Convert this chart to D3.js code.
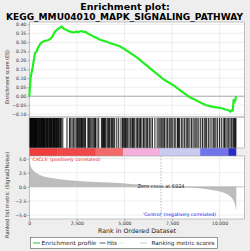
<!DOCTYPE html>
<html>
<head>
<meta charset="utf-8">
<script src="https://cdn.jsdelivr.net/npm/d3@7"></script>
<style>
  body { margin: 0; background: #eeeeee; }
  svg { display: block; font-family: 'DejaVu Sans', sans-serif; }
</style>
</head>
<body>
<div id="chart"></div>
<script>
// Enrichment profile: rank in list and running ES
var esRanks = [0, 74, 116, 160, 210, 300, 389, 458, 563, 650, 737, 879, 980, 1089, 1195, 1280, 1352, 1430, 1510, 1600, 1705, 1774, 1850, 1932, 2040, 2142, 2250, 2353, 2470, 2579, 2680, 2774, 2850, 2931, 3040, 3142, 3260, 3368, 3540, 3721, 3980, 4247, 4500, 4774, 5037, 5250, 5458, 5700, 5916, 6130, 6353, 6560, 6774, 6990, 7195, 7430, 7669, 7830, 7984, 8170, 8352, 8540, 8721, 8900, 9073, 9300, 9450, 9600, 9826, 9980, 10126, 10352, 10480, 10563, 10653, 10695, 10737, 10800, 10879];
var esValues = [0.0, 0.11, 0.13, 0.15, 0.184, 0.24, 0.25, 0.27, 0.29, 0.30, 0.305, 0.31, 0.312, 0.318, 0.33, 0.345, 0.36, 0.368, 0.375, 0.382, 0.389, 0.38, 0.374, 0.37, 0.364, 0.36, 0.357, 0.355, 0.36, 0.357, 0.362, 0.362, 0.358, 0.36, 0.352, 0.345, 0.34, 0.333, 0.325, 0.315, 0.306, 0.296, 0.288, 0.277, 0.26, 0.245, 0.23, 0.212, 0.193, 0.175, 0.155, 0.137, 0.119, 0.10, 0.085, 0.07, 0.054, 0.041, 0.028, 0.014, 0.0, -0.011, -0.02, -0.03, -0.039, -0.05, -0.054, -0.058, -0.062, -0.064, -0.067, -0.075, -0.078, -0.086, -0.076, -0.08, -0.02, -0.03, 0.0];

// Positions of gene set members in the ranked list
var hitRanks = [8, 20, 35, 50, 70, 95, 120, 140, 160, 180, 215, 240, 260, 280, 300, 325, 345, 365, 390, 420, 445, 470, 500, 530, 555, 580, 610, 640, 670, 700, 720, 745, 775, 800, 835, 870, 900, 930, 960, 990, 1025, 1060, 1090, 1120, 1145, 1170, 1205, 1240, 1270, 1300, 1325, 1350, 1385, 1420, 1445, 1470, 1500, 1530, 1570, 1610, 1645, 1680, 1760, 1980, 2110, 2180, 2250, 2330, 2400, 2470, 2530, 2570, 2610, 2650, 2700, 2745, 2790, 2835, 2880, 2920, 2960, 3080, 3120, 3170, 3230, 3290, 3350, 3400, 3440, 3480, 3560, 3650, 3790, 3850, 3900, 3950, 3990, 4030, 4100, 4160, 4220, 4290, 4330, 4380, 4440, 4490, 4600, 4700, 4820, 4900, 4960, 5010, 5060, 5100, 5170, 5240, 5310, 5390, 5430, 5470, 5540, 5620, 5690, 5760, 5810, 5850, 5920, 6000, 6070, 6140, 6190, 6230, 6310, 6390, 6470, 6600, 6720, 6810, 6870, 6930, 6980, 7040, 7110, 7190, 7270, 7350, 7400, 7460, 7540, 7620, 7700, 7790, 7840, 7900, 7990, 8070, 8150, 8240, 8300, 8350, 8440, 8530, 8610, 8700, 8760, 8820, 8910, 9010, 9100, 9190, 9250, 9320, 9410, 9500, 9600, 9690, 9750, 9810, 9900, 10000, 10090, 10190, 10260, 10330, 10400, 10480, 10550, 10620, 10700, 10745, 10790, 10830, 10860];

// Ranked list metric (Signal2Noise)
var metricRanks = [0, 20, 60, 120, 210, 350, 550, 800, 1100, 1600, 2200, 2800, 3500, 4200, 4900, 5500, 6200, 6700, 6924, 7300, 7900, 8600, 9100, 9500, 9900, 10200, 10400, 10600, 10737, 10800, 10850, 10879];
var metricValues = [5.2, 4.4, 3.8, 3.3, 2.9, 2.5, 2.1, 1.8, 1.6, 1.35, 1.15, 1.0, 0.88, 0.76, 0.64, 0.45, 0.3, 0.15, 0.0, -0.05, -0.1, -0.15, -0.3, -0.5, -0.75, -1.0, -1.3, -1.8, -2.4, -3.0, -3.8, -4.2];

// Heat bar bands (start rank, colour)
var bandStarts = [0, 1500, 3500, 4930, 6880, 8980, 10460, 10879];
var bandColors = ['#ef3c3c', '#f04848', '#f26a6a', '#f2b0da', '#cacaf2', '#7272ec', '#2a2ac4'];

var xTicks = [0, 2500, 5000, 7500, 10000];
var esTicks = [-0.10, -0.05, 0.00, 0.05, 0.10, 0.15, 0.20, 0.25, 0.30, 0.35, 0.40];
var metricTicks = [-5.0, -2.5, 0.0, 2.5, 5.0];
var zeroCross = 6924;

var width = 250;
var height = 251;

var svg = d3.select('#chart').append('svg')
    .attr('width', width)
    .attr('height', height);

var left = 29.3, right = 244.3;
var esTop = 22, esBottom = 117;
var hitBottom = 148, barBottom = 156;
var mBottom = 219;

var xScale = d3.scaleLinear().domain([0, 11300]).range([left, right]);
var yEs = d3.scaleLinear().domain([-0.1156, 0.4134]).range([esBottom, esTop]);
var yM = d3.scaleLinear().domain([-5.71, 5.48]).range([mBottom, barBottom]);

// Title
svg.append('text')
    .attr('x', 125).attr('y', 10)
    .attr('text-anchor', 'middle')
    .style('font-size', '9.5px').style('font-weight', 'bold')
    .text('Enrichment plot:');
svg.append('text')
    .attr('x', 124.5).attr('y', 19.5)
    .attr('text-anchor', 'middle')
    .attr('textLength', 237).attr('lengthAdjust', 'spacingAndGlyphs')
    .style('font-size', '9.2px').style('font-weight', 'bold')
    .text('KEGG_MMU04010_MAPK_SIGNALING_PATHWAY');

// Panel backgrounds
[[esTop, esBottom], [esBottom, hitBottom], [barBottom, mBottom]].forEach(function (p) {
    svg.append('rect')
        .attr('x', left).attr('y', p[0])
        .attr('width', right - left).attr('height', p[1] - p[0])
        .attr('fill', '#ffffff');
});

// Grid lines
var grid = svg.append('g').attr('stroke', '#e2e2e2').attr('stroke-width', 0.6);
xTicks.slice(1).forEach(function (t) {
    grid.append('line')
        .attr('x1', xScale(t)).attr('x2', xScale(t))
        .attr('y1', esTop).attr('y2', esBottom);
    grid.append('line')
        .attr('x1', xScale(t)).attr('x2', xScale(t))
        .attr('y1', barBottom).attr('y2', mBottom);
});
esTicks.forEach(function (t) {
    grid.append('line')
        .attr('x1', left).attr('x2', right)
        .attr('y1', yEs(t)).attr('y2', yEs(t));
});
metricTicks.forEach(function (t) {
    grid.append('line')
        .attr('x1', left).attr('x2', right)
        .attr('y1', yM(t)).attr('y2', yM(t));
});

// ES zero line
svg.append('line')
    .attr('x1', left).attr('x2', right)
    .attr('y1', yEs(0)).attr('y2', yEs(0))
    .attr('stroke', '#999999').attr('stroke-width', 0.8);

// Enrichment profile
var esLine = d3.line()
    .x(function (d, i) { return xScale(esRanks[i]); })
    .y(function (d) { return yEs(d); });
svg.append('path')
    .datum(esValues)
    .attr('fill', 'none')
    .attr('stroke', '#22ee22')
    .attr('stroke-width', 2.2)
    .attr('stroke-linejoin', 'round')
    .attr('d', esLine);

// Hits
svg.append('g').selectAll('line')
    .data(hitRanks).enter()
    .append('line')
        .attr('x1', function (d) { return xScale(d); })
        .attr('x2', function (d) { return xScale(d); })
        .attr('y1', esBottom + 1).attr('y2', hitBottom)
        .attr('stroke', '#000000').attr('stroke-width', 0.9);

// Heat bar of ranked metric
svg.append('g').selectAll('rect')
    .data(bandColors).enter()
    .append('rect')
        .attr('x', function (d, i) { return xScale(bandStarts[i]); })
        .attr('width', function (d, i) { return xScale(bandStarts[i + 1]) - xScale(bandStarts[i]); })
        .attr('y', hitBottom).attr('height', barBottom - hitBottom)
        .attr('fill', function (d) { return d; });

// Ranked metric area
var area = d3.area()
    .x(function (d, i) { return xScale(metricRanks[i]); })
    .y0(yM(0))
    .y1(function (d) { return yM(d); });
svg.append('path')
    .datum(metricValues)
    .attr('fill', '#bdbdbd')
    .attr('d', area);

svg.append('line')
    .attr('x1', left).attr('x2', right)
    .attr('y1', yM(0)).attr('y2', yM(0))
    .attr('stroke', '#aaaaaa').attr('stroke-width', 0.6);

// Zero cross marker
svg.append('line')
    .attr('x1', xScale(zeroCross)).attr('x2', xScale(zeroCross))
    .attr('y1', barBottom).attr('y2', mBottom)
    .attr('stroke', '#888888').attr('stroke-width', 0.6)
    .attr('stroke-dasharray', '1.5,1.5');
svg.append('text')
    .attr('x', xScale(zeroCross)).attr('y', yM(0) + 1.6)
    .attr('text-anchor', 'middle')
    .style('font-size', '5px').attr('fill', '#222222')
    .text('Zero cross at ' + zeroCross);

svg.append('text')
    .attr('x', left + 2).attr('y', barBottom + 4.5)
    .style('font-size', '4.6px').attr('fill', '#ee1111')
    .text("'CXCL5' (positively correlated)");
svg.append('text')
    .attr('x', 216).attr('y', 215.5)
    .attr('text-anchor', 'end')
    .style('font-size', '4.6px').attr('fill', '#1111ee')
    .text("'Control' (negatively correlated)");

// Panel borders
[[esTop, esBottom], [esBottom, hitBottom], [barBottom, mBottom]].forEach(function (p) {
    svg.append('rect')
        .attr('x', left).attr('y', p[0])
        .attr('width', right - left).attr('height', p[1] - p[0])
        .attr('fill', 'none')
        .attr('stroke', '#9a9a9a').attr('stroke-width', 0.6);
});

// Axes
var esAxis = svg.append('g')
    .attr('transform', 'translate(' + left + ',0)')
    .call(d3.axisLeft(yEs).tickValues(esTicks).tickFormat(d3.format('.2f')).tickSize(2).tickPadding(1));
var mAxis = svg.append('g')
    .attr('transform', 'translate(' + left + ',0)')
    .call(d3.axisLeft(yM).tickValues(metricTicks).tickFormat(d3.format('.1f')).tickSize(2).tickPadding(1));
var xAxis = svg.append('g')
    .attr('transform', 'translate(0,' + mBottom + ')')
    .call(d3.axisBottom(xScale).tickValues(xTicks).tickFormat(d3.format(',')).tickSize(2).tickPadding(1));

[esAxis, mAxis, xAxis].forEach(function (a) {
    a.select('.domain').remove();
    a.selectAll('line').attr('stroke', '#777777').attr('stroke-width', 0.5);
    a.selectAll('text').style('font-size', '4.6px').attr('fill', '#333333')
        .style('font-family', "'DejaVu Sans', sans-serif");
});

// Axis titles
svg.append('text')
    .attr('transform', 'translate(9,77) rotate(-90)')
    .attr('text-anchor', 'middle')
    .attr('textLength', 54).attr('lengthAdjust', 'spacingAndGlyphs')
    .style('font-size', '5.2px').attr('fill', '#333333')
    .text('Enrichment score (ES)');
svg.append('text')
    .attr('transform', 'translate(9,195) rotate(-90)')
    .attr('text-anchor', 'middle')
    .attr('textLength', 86).attr('lengthAdjust', 'spacingAndGlyphs')
    .style('font-size', '5.2px').attr('fill', '#333333')
    .text('Ranked list metric (Signal2Noise)');
svg.append('text')
    .attr('x', 137).attr('y', 233)
    .attr('text-anchor', 'middle')
    .attr('textLength', 78).attr('lengthAdjust', 'spacingAndGlyphs')
    .style('font-size', '6.2px').attr('fill', '#222222')
    .text('Rank in Ordered Dataset');

// Legend
var legend = svg.append('g');
legend.append('rect')
    .attr('x', 30.5).attr('y', 237.5)
    .attr('width', 187).attr('height', 11)
    .attr('fill', '#ffffff')
    .attr('stroke', '#555555').attr('stroke-width', 0.6);
var legendItems = [
    {x1: 33, x2: 40, color: '#66dd66', w: 1.5},
    {x1: 99.5, x2: 105.5, color: '#333333', w: 0.8},
    {x1: 119, x2: 124, color: '#dddddd', w: 0.8},
    {x1: 140, x2: 147, color: '#bbbbbb', w: 0.8}
];
legend.selectAll('line')
    .data(legendItems).enter()
    .append('line')
        .attr('x1', function (d) { return d.x1; })
        .attr('x2', function (d) { return d.x2; })
        .attr('y1', 243).attr('y2', 243)
        .attr('stroke', function (d) { return d.color; })
        .attr('stroke-width', function (d) { return d.w; });
var legendTexts = [
    {x: 41.5, text: 'Enrichment profile', len: 55},
    {x: 107, text: 'Hits', len: 10},
    {x: 151.5, text: 'Ranking metric scores', len: 63}
];
legend.selectAll('text')
    .data(legendTexts).enter()
    .append('text')
        .attr('x', function (d) { return d.x; })
        .attr('y', 245)
        .attr('textLength', function (d) { return d.len; })
        .attr('lengthAdjust', 'spacingAndGlyphs')
        .style('font-size', '5.6px').attr('fill', '#222222')
        .text(function (d) { return d.text; });
</script>
</body>
</html>
